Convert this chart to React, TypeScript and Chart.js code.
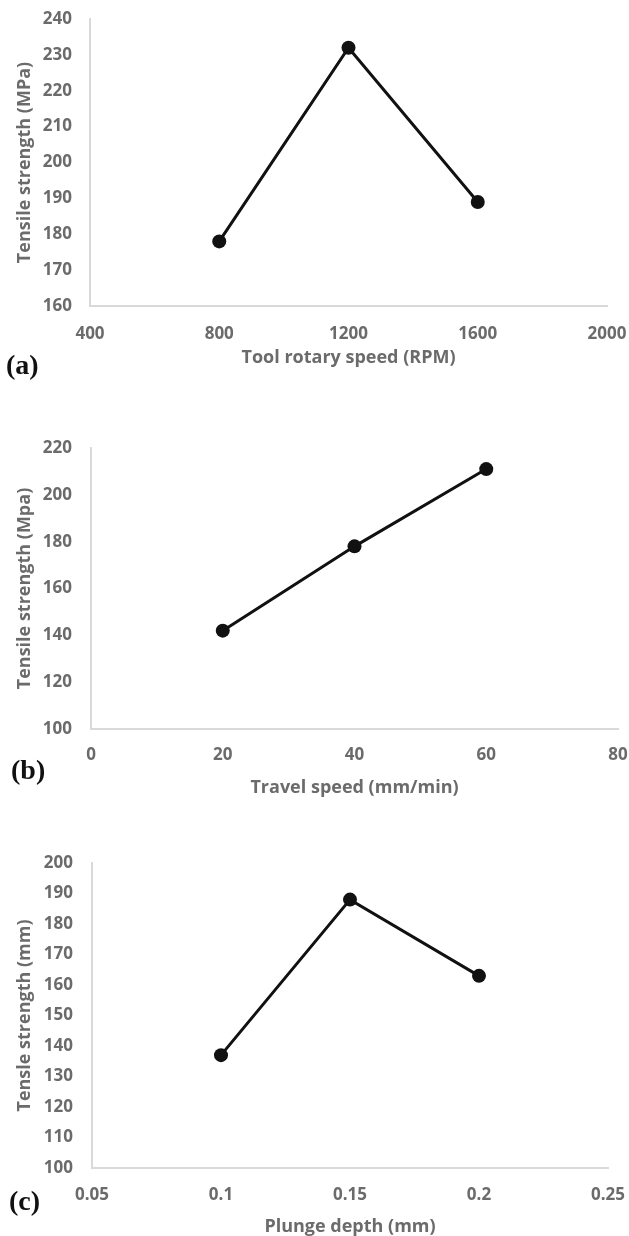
import React, { useEffect, useRef } from "react";
import { Chart, registerables } from "chart.js";

Chart.register(...registerables);

// ---------- Data ----------
// (a) Tool rotary speed
const rotarySpeed = [800, 1200, 1600];
const rotaryStrength = [178, 232, 189];
const rotaryXTicks = [400, 800, 1200, 1600, 2000];
const rotaryXTickLabels = ["400", "800", "1200", "1600", "2000"];
const rotaryYTicks = [160, 170, 180, 190, 200, 210, 220, 230, 240];
const rotaryYTickLabels = ["160", "170", "180", "190", "200", "210", "220", "230", "240"];

// (b) Travel speed
const travelSpeed = [20, 40, 60];
const travelStrength = [142, 178, 211];
const travelXTicks = [0, 20, 40, 60, 80];
const travelXTickLabels = ["0", "20", "40", "60", "80"];
const travelYTicks = [100, 120, 140, 160, 180, 200, 220];
const travelYTickLabels = ["100", "120", "140", "160", "180", "200", "220"];

// (c) Plunge depth
const plungeDepth = [0.1, 0.15, 0.2];
const plungeStrength = [137, 188, 163];
const plungeXTicks = [0.05, 0.1, 0.15, 0.2, 0.25];
const plungeXTickLabels = ["0.05", "0.1", "0.15", "0.2", "0.25"];
const plungeYTicks = [100, 110, 120, 130, 140, 150, 160, 170, 180, 190, 200];
const plungeYTickLabels = ["100", "110", "120", "130", "140", "150", "160", "170", "180", "190", "200"];

const panelLetters = ["(a)", "(b)", "(c)"];
const xTitles = ["Tool rotary speed (RPM)", "Travel speed (mm/min)", "Plunge depth (mm)"];
const yTitles = ["Tensile strength (MPa)", "Tensile strength (Mpa)", "Tensle strength (mm)"];

// ---------- Styling / layout ----------
const PAGE_W = 629;
const TEXT_COLOR = "#6b6b6b";
const AXIS_COLOR = "#d9d9d9";
const LINE_COLOR = "#111111";
const FONT_FAMILY = "'Open Sans', 'DejaVu Sans', sans-serif";
const TICK_FONT = { family: FONT_FAMILY, size: 17, weight: "bold" as const, lineHeight: 1.2 };
const TITLE_FONT = { family: FONT_FAMILY, size: 18, weight: "bold" as const, lineHeight: 1 };

type PanelCfg = {
  top: number;
  height: number;
  area: { left: number; right: number; top: number; bottom: number };
  xLabelCenter: number;
  xTitleCenter: number;
  yLabelRight: number;
  yTitleCenterX: number;
  xs: number[];
  ys: number[];
  xTicks: number[];
  xTickLabels: string[];
  yTicks: number[];
  yTickLabels: string[];
  xTitle: string;
  yTitle: string;
  letter: string;
  letterLeft: number;
  letterCenter: number;
};

const panels: PanelCfg[] = [
  {
    top: 0, height: 380,
    area: { left: 90, right: 607, top: 19, bottom: 306 },
    xLabelCenter: 334, xTitleCenter: 358, yLabelRight: 72, yTitleCenterX: 25,
    xs: rotarySpeed, ys: rotaryStrength,
    xTicks: rotaryXTicks, xTickLabels: rotaryXTickLabels,
    yTicks: rotaryYTicks, yTickLabels: rotaryYTickLabels,
    xTitle: xTitles[0], yTitle: yTitles[0],
    letter: panelLetters[0], letterLeft: 6, letterCenter: 367,
  },
  {
    top: 400, height: 400,
    area: { left: 91, right: 618, top: 448, bottom: 729 },
    xLabelCenter: 755, xTitleCenter: 788, yLabelRight: 72, yTitleCenterX: 25,
    xs: travelSpeed, ys: travelStrength,
    xTicks: travelXTicks, xTickLabels: travelXTickLabels,
    yTicks: travelYTicks, yTickLabels: travelYTickLabels,
    xTitle: xTitles[1], yTitle: yTitles[1],
    letter: panelLetters[1], letterLeft: 11, letterCenter: 772,
  },
  {
    top: 840, height: 396,
    area: { left: 92, right: 608, top: 863, bottom: 1168 },
    xLabelCenter: 1195, xTitleCenter: 1227, yLabelRight: 73, yTitleCenterX: 25,
    xs: plungeDepth, ys: plungeStrength,
    xTicks: plungeXTicks, xTickLabels: plungeXTickLabels,
    yTicks: plungeYTicks, yTickLabels: plungeYTickLabels,
    xTitle: xTitles[2], yTitle: yTitles[2],
    letter: panelLetters[2], letterLeft: 9, letterCenter: 1203,
  },
];

function Panel({ cfg }: { cfg: PanelCfg }) {
  const ref = useRef<HTMLCanvasElement>(null);

  useEffect(() => {
    const c = cfg;
    const canvasBottom = c.top + c.height;
    const tickHalf = (TICK_FONT.size * TICK_FONT.lineHeight) / 2;
    const titleHalf = (TITLE_FONT.size * TITLE_FONT.lineHeight) / 2;

    const chart = new Chart(ref.current as HTMLCanvasElement, {
      type: "line",
      data: {
        datasets: [
          {
            data: c.xs.map((x, i) => ({ x, y: c.ys[i] })),
            borderColor: LINE_COLOR,
            borderWidth: 3,
            pointRadius: 7,
            pointHoverRadius: 7,
            pointBackgroundColor: LINE_COLOR,
            pointBorderColor: LINE_COLOR,
            pointBorderWidth: 0,
            fill: false,
            tension: 0,
          },
        ],
      },
      options: {
        responsive: false,
        animation: false,
        devicePixelRatio: 1,
        events: [],
        layout: {
          autoPadding: false,
          padding: {
            left: 0,
            right: PAGE_W - c.area.right,
            top: c.area.top - c.top,
            bottom: 0,
          },
        },
        plugins: {
          legend: { display: false },
          tooltip: { enabled: false },
        },
        scales: {
          x: {
            type: "linear",
            position: "bottom",
            min: c.xTicks[0],
            max: c.xTicks[c.xTicks.length - 1],
            afterBuildTicks: (s: any) => {
              s.ticks = c.xTicks.map((v) => ({ value: v }));
            },
            afterFit: (s: any) => {
              s.height = canvasBottom - c.area.bottom;
              s.paddingLeft = 0;
              s.paddingRight = 0;
            },
            ticks: {
              callback: (_v: any, i: number) => c.xTickLabels[i],
              font: TICK_FONT,
              color: TEXT_COLOR,
              padding: c.xLabelCenter - c.area.bottom - tickHalf,
              maxRotation: 0,
              minRotation: 0,
              autoSkip: false,
            },
            grid: { display: false, drawTicks: false },
            border: { display: true, color: AXIS_COLOR, width: 2 },
            title: {
              display: true,
              text: c.xTitle,
              font: TITLE_FONT,
              color: TEXT_COLOR,
              padding: { top: 0, bottom: Math.max(0, canvasBottom - c.xTitleCenter - titleHalf) },
            },
          },
          y: {
            type: "linear",
            position: "left",
            min: c.yTicks[0],
            max: c.yTicks[c.yTicks.length - 1],
            afterBuildTicks: (s: any) => {
              s.ticks = c.yTicks.map((v) => ({ value: v }));
            },
            afterFit: (s: any) => {
              s.width = c.area.left;
              s.paddingTop = 0;
              s.paddingBottom = 0;
            },
            ticks: {
              callback: (_v: any, i: number) => c.yTickLabels[i],
              font: TICK_FONT,
              color: TEXT_COLOR,
              padding: c.area.left - c.yLabelRight,
              autoSkip: false,
            },
            grid: { display: false, drawTicks: false },
            border: { display: true, color: AXIS_COLOR, width: 2 },
            title: {
              display: true,
              text: c.yTitle,
              font: TITLE_FONT,
              color: TEXT_COLOR,
              padding: { top: c.yTitleCenterX - titleHalf, bottom: 0 },
            },
          },
        },
      },
    } as any);

    return () => chart.destroy();
  }, [cfg]);

  return (
    <>
      <canvas
        ref={ref}
        width={PAGE_W}
        height={cfg.height}
        style={{
          position: "absolute",
          left: 0,
          top: cfg.top,
          width: PAGE_W,
          height: cfg.height,
          display: "block",
        }}
      />
      <div
        style={{
          position: "absolute",
          left: cfg.letterLeft,
          top: cfg.letterCenter - 16,
          fontFamily: "'Liberation Serif', 'Times New Roman', serif",
          fontWeight: "bold",
          fontSize: 28,
          lineHeight: "28px",
          color: "#111",
          whiteSpace: "nowrap",
        }}
      >
        {cfg.letter}
      </div>
    </>
  );
}

export default function App() {
  return (
    <div
      style={{
        position: "absolute",
        left: 0,
        top: 0,
        width: PAGE_W,
        height: 1236,
        background: "#ffffff",
        overflow: "hidden",
      }}
    >
      {panels.map((p, i) => (
        <Panel key={i} cfg={p} />
      ))}
    </div>
  );
}
